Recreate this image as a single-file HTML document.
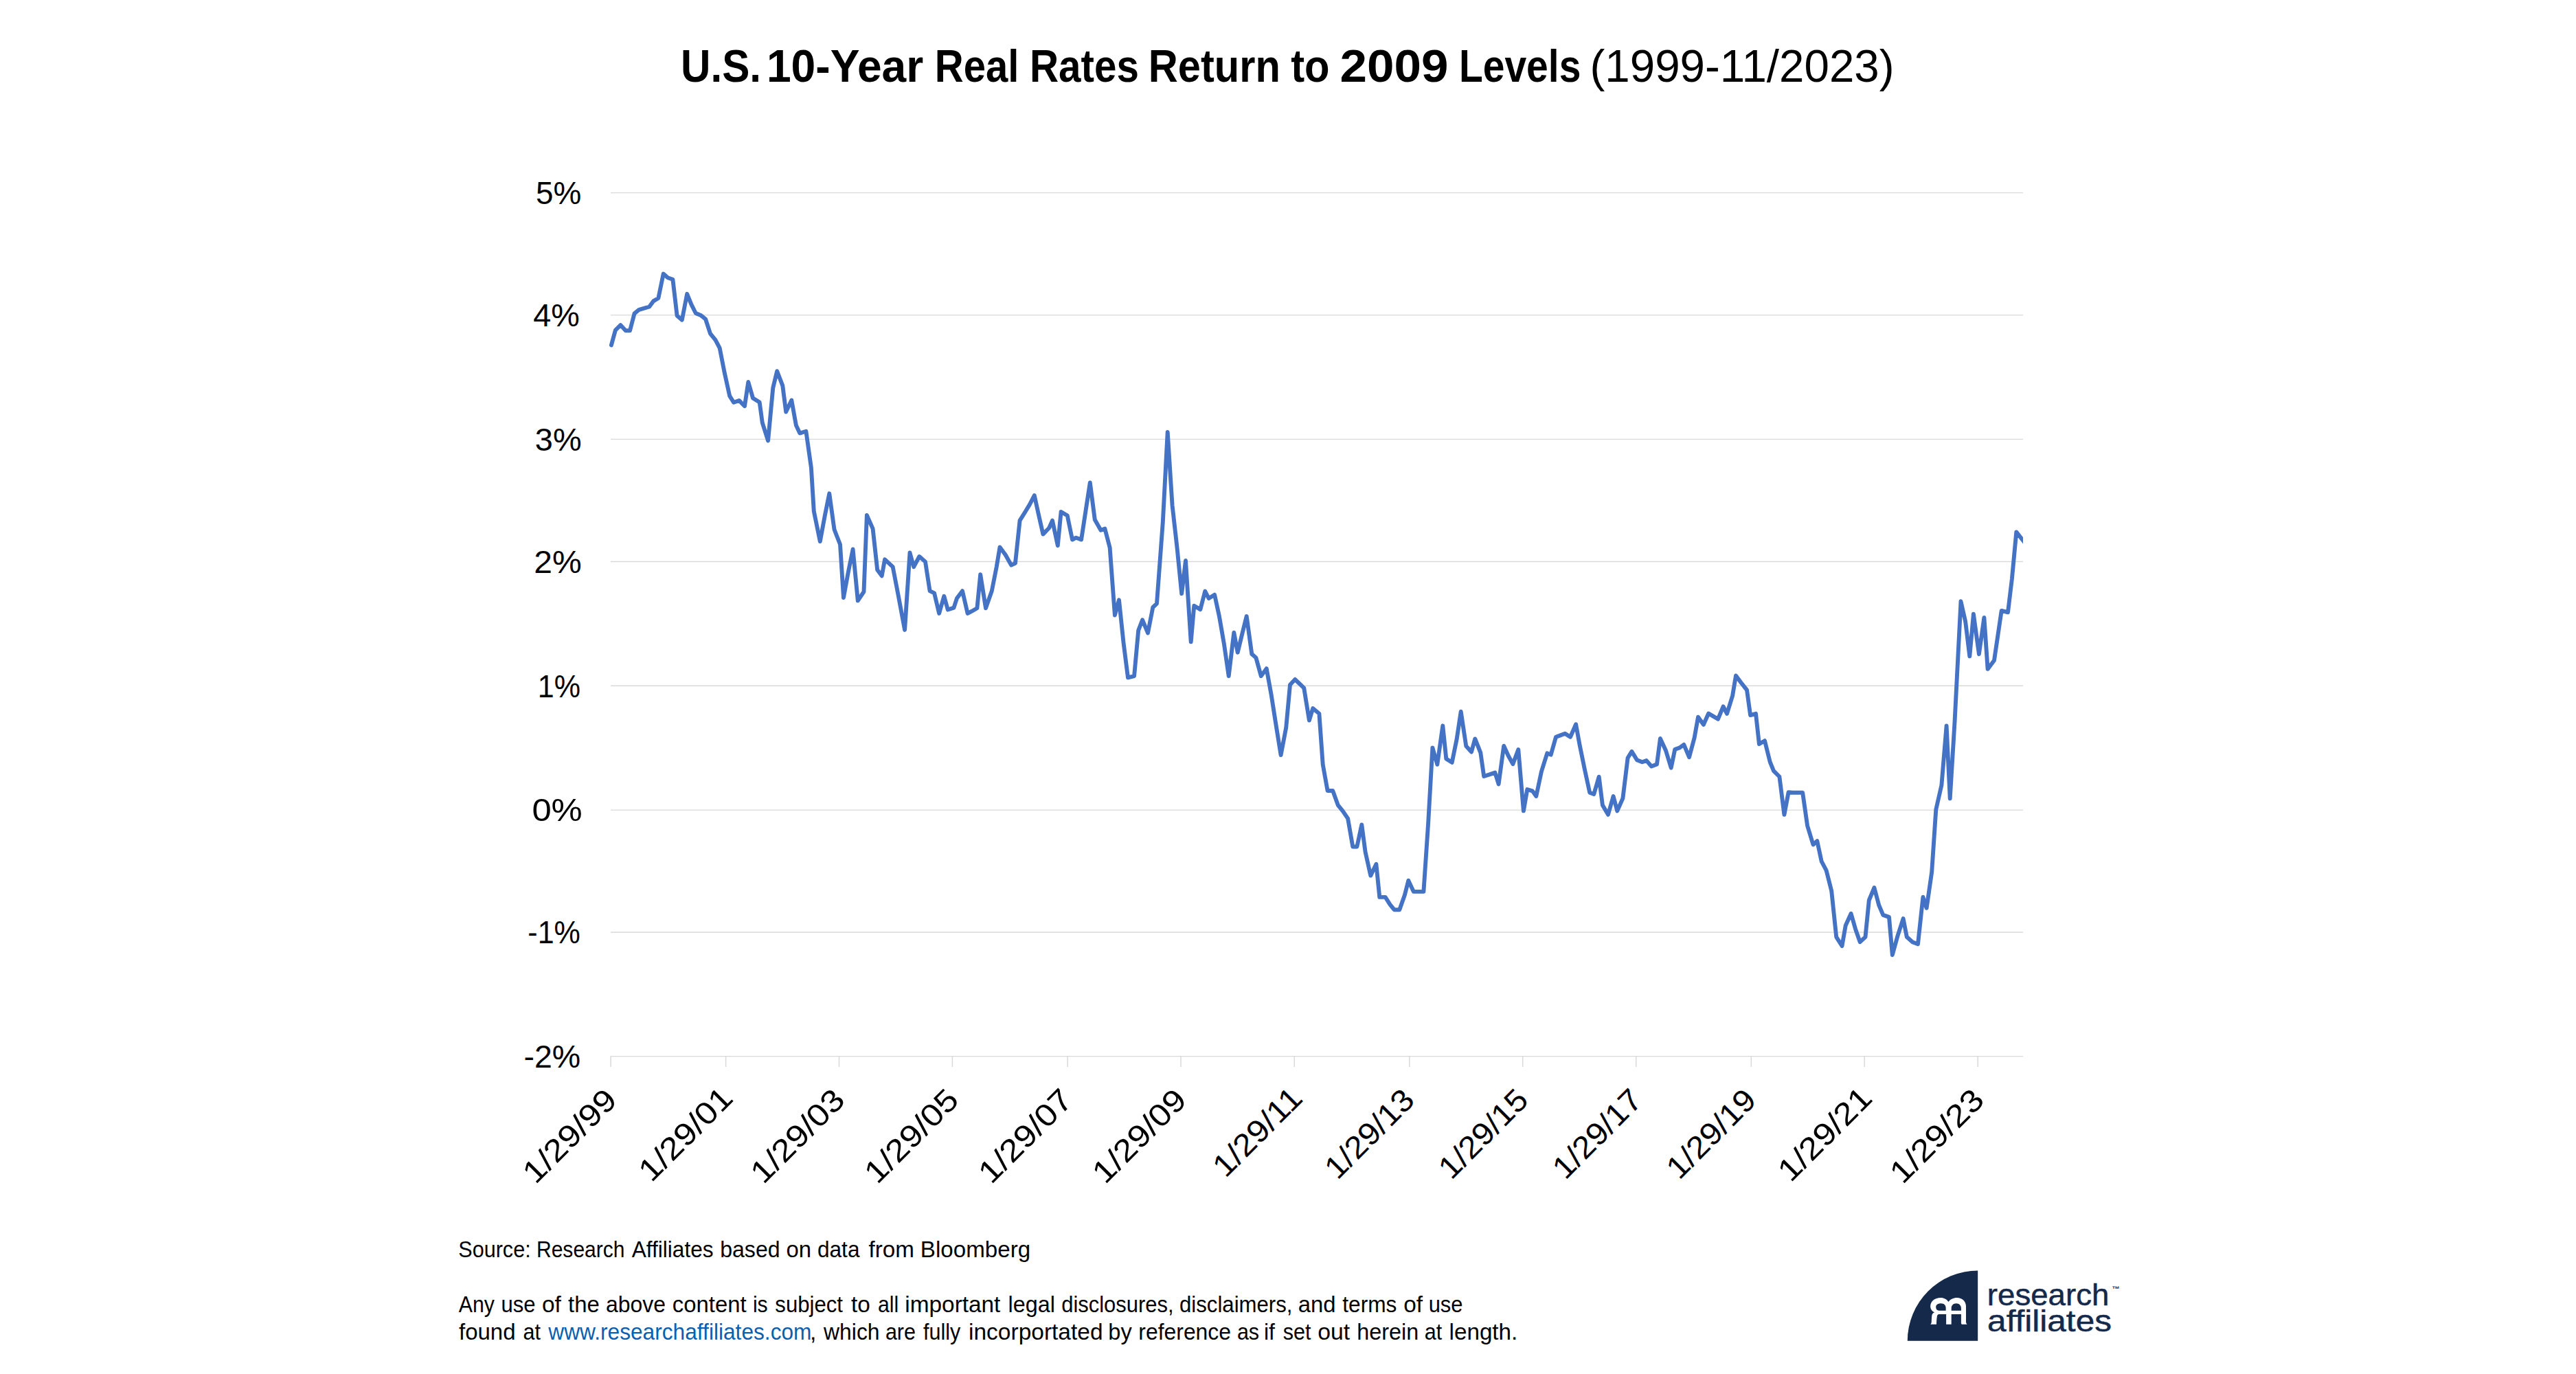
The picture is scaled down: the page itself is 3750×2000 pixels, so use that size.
<!DOCTYPE html>
<html><head><meta charset="utf-8"><title>U.S. 10-Year Real Rates Return to 2009 Levels</title>
<style>html,body{margin:0;padding:0;background:#fff}svg{display:block}text{font-family:'Liberation Sans', sans-serif;white-space:pre}</style>
</head><body>
<svg width="3750" height="2000" viewBox="0 0 3750 2000">
<rect width="3750" height="2000" fill="#fff"/>
<g stroke="#d9d9d9" fill="none">
<line x1="889" x2="2945" y1="280.6" y2="280.6" stroke-width="1.4"/>
<line x1="889" x2="2945" y1="458.6" y2="458.6" stroke-width="1.4"/>
<line x1="889" x2="2945" y1="639.4" y2="639.4" stroke-width="1.4"/>
<line x1="889" x2="2945" y1="817.5" y2="817.5" stroke-width="1.4"/>
<line x1="889" x2="2945" y1="998.3" y2="998.3" stroke-width="1.4"/>
<line x1="889" x2="2945" y1="1179.1" y2="1179.1" stroke-width="1.4"/>
<line x1="889" x2="2945" y1="1357.0" y2="1357.0" stroke-width="1.4"/>
<line x1="889" x2="2945" y1="1537.6" y2="1537.6" stroke-width="1.4"/>
<line x1="889.1" x2="889.1" y1="1537.6" y2="1553" stroke-width="1.5"/>
<line x1="1056.6" x2="1056.6" y1="1537.6" y2="1553" stroke-width="1.5"/>
<line x1="1221.5" x2="1221.5" y1="1537.6" y2="1553" stroke-width="1.5"/>
<line x1="1386.4" x2="1386.4" y1="1537.6" y2="1553" stroke-width="1.5"/>
<line x1="1554.1" x2="1554.1" y1="1537.6" y2="1553" stroke-width="1.5"/>
<line x1="1719" x2="1719" y1="1537.6" y2="1553" stroke-width="1.5"/>
<line x1="1884.3" x2="1884.3" y1="1537.6" y2="1553" stroke-width="1.5"/>
<line x1="2051.8" x2="2051.8" y1="1537.6" y2="1553" stroke-width="1.5"/>
<line x1="2216.7" x2="2216.7" y1="1537.6" y2="1553" stroke-width="1.5"/>
<line x1="2381.7" x2="2381.7" y1="1537.6" y2="1553" stroke-width="1.5"/>
<line x1="2549.3" x2="2549.3" y1="1537.6" y2="1553" stroke-width="1.5"/>
<line x1="2714.2" x2="2714.2" y1="1537.6" y2="1553" stroke-width="1.5"/>
<line x1="2879.2" x2="2879.2" y1="1537.6" y2="1553" stroke-width="1.5"/>
</g>
<clipPath id="cp"><rect x="880" y="270" width="2065" height="1280"/></clipPath>
<polyline clip-path="url(#cp)" fill="none" stroke="#4472c4" stroke-width="5.9" stroke-linejoin="round" stroke-linecap="round" points="889.9,502.4 895.9,480.6 903.4,473.2 910.8,481.2 917.0,481.2 923.5,456.4 930.3,450.8 937.9,448.6 945.2,446.5 951.1,438.4 958.4,434.0 965.7,398.6 972.2,404.2 979.4,406.7 985.6,459.5 992.8,465.7 1000.2,427.8 1006.5,443.4 1012.9,456.0 1020.2,458.9 1027.1,464.5 1034.0,485.6 1041.5,494.9 1047.7,506.7 1054.5,541.5 1062.2,576.3 1068.2,585.8 1075.9,582.9 1084.0,591.2 1089.3,556.0 1096.0,579.4 1105.7,585.6 1109.8,615.4 1118.1,641.5 1125.3,564.5 1131.2,540.2 1139.3,561.4 1144.2,599.5 1152.3,582.5 1158.9,619.1 1164.3,630.6 1173.4,627.8 1180.9,680.9 1184.8,744.2 1193.8,788.1 1200.7,751.0 1207.3,718.3 1214.5,770.7 1223.0,792.5 1228.0,870.0 1234.6,834.0 1241.6,799.5 1248.8,874.4 1257.5,861.3 1261.9,749.9 1270.6,769.6 1277.2,829.6 1283.7,838.3 1288.1,814.3 1299.7,825.2 1307.7,866.7 1317.1,916.9 1324.5,804.5 1330.2,825.2 1338.3,810.0 1347.0,817.6 1353.6,860.2 1360.1,863.4 1367.1,892.9 1374.3,867.8 1379.8,887.5 1388.5,884.6 1392.9,871.1 1401.0,860.2 1408.6,892.9 1414.7,889.7 1422.4,885.3 1427.2,836.2 1435.0,885.3 1443.8,860.2 1450.7,825.2 1455.5,796.4 1463.8,807.8 1472.1,822.6 1478.0,819.8 1484.6,757.6 1492.2,745.5 1498.8,734.6 1505.8,721.1 1511.9,748.8 1518.4,777.6 1527.2,768.5 1532.0,757.6 1539.8,794.2 1544.6,744.9 1553.8,750.6 1561.0,785.5 1566.5,782.7 1574.1,785.5 1580.7,742.3 1586.8,702.5 1593.8,756.5 1602.5,771.7 1608.4,769.6 1615.6,796.9 1622.9,895.5 1629.0,873.3 1635.5,935.2 1642.0,986.4 1651.1,984.1 1657.2,917.6 1663.1,902.3 1671.0,921.4 1678.3,884.0 1684.0,878.6 1692.8,760.0 1699.7,629.0 1706.6,736.0 1713.5,797.0 1720.2,864.1 1726.0,816.0 1733.7,934.4 1738.3,881.7 1747.4,887.1 1754.3,860.6 1759.6,871.0 1768.1,865.7 1774.9,897.0 1781.8,936.7 1788.7,984.1 1796.3,920.7 1801.7,949.7 1808.2,923.0 1814.7,897.0 1822.3,952.0 1828.4,957.4 1835.8,984.1 1843.7,973.1 1850.6,1011.0 1857.5,1055.0 1864.6,1099.1 1872.2,1059.3 1878.0,996.7 1885.2,989.0 1892.1,995.5 1898.2,1001.3 1905.9,1048.6 1911.2,1031.1 1920.4,1038.7 1925.7,1112.8 1932.6,1151.0 1940.2,1151.0 1947.9,1172.2 1954.8,1180.6 1962.1,1191.3 1969.3,1232.5 1975.4,1232.5 1982.3,1200.4 1987.6,1240.2 1995.3,1274.6 2003.4,1257.7 2008.3,1305.9 2016.7,1305.9 2023.5,1316.6 2029.6,1324.2 2037.3,1324.2 2044.9,1302.8 2050.3,1281.7 2057.9,1297.9 2072.4,1297.9 2079.0,1200.4 2085.4,1088.4 2092.3,1112.8 2100.3,1056.3 2105.3,1104.4 2113.7,1109.8 2120.6,1076.2 2126.7,1035.7 2134.3,1086.1 2142.0,1094.5 2147.3,1075.4 2155.3,1095.6 2160.2,1130.0 2168.3,1127.4 2176.4,1124.6 2181.6,1141.4 2189.2,1085.7 2195.8,1100.2 2202.4,1112.1 2210.3,1091.0 2217.9,1180.4 2223.3,1149.1 2230.9,1151.4 2236.3,1159.0 2243.9,1123.1 2252.3,1096.4 2257.7,1098.6 2265.0,1072.7 2271.4,1070.4 2278.3,1067.8 2286.0,1072.7 2294.1,1054.3 2299.7,1084.9 2306.9,1120.0 2314.2,1153.7 2320.3,1156.0 2327.7,1130.7 2332.9,1172.0 2341.0,1185.8 2348.6,1159.0 2354.3,1180.4 2362.4,1162.1 2369.6,1103.2 2375.4,1093.8 2383.0,1106.3 2390.6,1109.3 2396.8,1107.1 2404.1,1115.5 2412.0,1112.4 2416.9,1075.0 2425.0,1092.5 2432.7,1117.7 2438.3,1090.7 2445.2,1088.4 2451.3,1083.9 2459.0,1102.2 2466.6,1073.9 2472.0,1043.7 2479.9,1054.8 2487.2,1038.5 2494.1,1042.6 2501.0,1046.7 2508.6,1028.4 2514.0,1038.8 2522.1,1012.8 2527.0,983.4 2534.6,993.7 2543.0,1004.4 2548.1,1041.1 2556.0,1038.8 2560.9,1083.1 2569.0,1078.2 2576.7,1109.1 2582.0,1122.1 2590.4,1130.5 2597.4,1185.9 2603.6,1153.1 2609.7,1153.8 2617.3,1153.8 2624.2,1153.8 2631.1,1202.0 2639.5,1229.5 2645.3,1224.1 2651.7,1253.9 2658.6,1266.9 2666.2,1296.7 2673.2,1363.8 2681.5,1376.9 2686.7,1347.2 2694.6,1329.7 2701.1,1352.4 2707.7,1371.2 2715.5,1363.8 2720.8,1310.5 2728.4,1292.1 2735.2,1317.5 2741.3,1331.9 2750.0,1334.9 2754.8,1390.0 2762.3,1362.9 2770.6,1337.1 2775.8,1363.8 2784.1,1371.2 2792.0,1374.2 2799.4,1305.7 2804.6,1321.8 2812.2,1269.2 2818.3,1178.3 2826.4,1142.9 2833.6,1056.4 2838.7,1162.4 2845.5,1051.1 2854.5,875.3 2861.2,905.0 2867.3,955.4 2872.9,893.7 2880.9,952.2 2888.4,899.0 2893.6,973.9 2903.0,961.2 2913.7,888.9 2923.0,891.3 2928.9,842.5 2935.3,774.4 2947.3,789.6"/>
<g fill="#000">
<text x="779.91" y="296.9" font-size="46.3" textLength="66.30" lengthAdjust="spacingAndGlyphs">5%</text>
<text x="776.39" y="474.9" font-size="46.3" textLength="67.48" lengthAdjust="spacingAndGlyphs">4%</text>
<text x="778.89" y="655.7" font-size="46.3" textLength="67.79" lengthAdjust="spacingAndGlyphs">3%</text>
<text x="777.22" y="833.8" font-size="46.3" textLength="69.49" lengthAdjust="spacingAndGlyphs">2%</text>
<text x="782.83" y="1014.6" font-size="46.3" textLength="62.23" lengthAdjust="spacingAndGlyphs">1%</text>
<text x="774.40" y="1195.4" font-size="46.3" textLength="73.37" lengthAdjust="spacingAndGlyphs">0%</text>
<text x="768.33" y="1373.3" font-size="46.3" textLength="76.57" lengthAdjust="spacingAndGlyphs">-1%</text>
<text x="762.49" y="1553.9" font-size="46.3" textLength="82.78" lengthAdjust="spacingAndGlyphs">-2%</text>
<text transform="translate(899.7,1604.9) rotate(-45)" x="-169.89" y="0" font-size="45.5" textLength="171.36" lengthAdjust="spacingAndGlyphs">1/29/99</text>
<text transform="translate(1068.4,1602.1) rotate(-45)" x="-169.89" y="0" font-size="45.5" textLength="171.36" lengthAdjust="spacingAndGlyphs">1/29/01</text>
<text transform="translate(1231.4,1604.9) rotate(-45)" x="-169.89" y="0" font-size="45.5" textLength="171.36" lengthAdjust="spacingAndGlyphs">1/29/03</text>
<text transform="translate(1397.2,1604.9) rotate(-45)" x="-169.89" y="0" font-size="45.5" textLength="171.36" lengthAdjust="spacingAndGlyphs">1/29/05</text>
<text transform="translate(1563.1,1604.9) rotate(-45)" x="-169.89" y="0" font-size="45.5" textLength="171.36" lengthAdjust="spacingAndGlyphs">1/29/07</text>
<text transform="translate(1728.9,1604.9) rotate(-45)" x="-169.89" y="0" font-size="45.5" textLength="171.36" lengthAdjust="spacingAndGlyphs">1/29/09</text>
<text transform="translate(1897.6,1602.1) rotate(-45)" x="-160.78" y="0" font-size="45.5" textLength="162.20" lengthAdjust="spacingAndGlyphs">1/29/11</text>
<text transform="translate(2060.6,1604.9) rotate(-45)" x="-160.70" y="0" font-size="45.5" textLength="162.10" lengthAdjust="spacingAndGlyphs">1/29/13</text>
<text transform="translate(2226.4,1604.9) rotate(-45)" x="-160.70" y="0" font-size="45.5" textLength="162.10" lengthAdjust="spacingAndGlyphs">1/29/15</text>
<text transform="translate(2392.3,1604.9) rotate(-45)" x="-160.70" y="0" font-size="45.5" textLength="162.10" lengthAdjust="spacingAndGlyphs">1/29/17</text>
<text transform="translate(2558.1,1604.9) rotate(-45)" x="-160.70" y="0" font-size="45.5" textLength="162.10" lengthAdjust="spacingAndGlyphs">1/29/19</text>
<text transform="translate(2726.8,1602.1) rotate(-45)" x="-169.89" y="0" font-size="45.5" textLength="171.36" lengthAdjust="spacingAndGlyphs">1/29/21</text>
<text transform="translate(2889.8,1604.9) rotate(-45)" x="-169.89" y="0" font-size="45.5" textLength="171.36" lengthAdjust="spacingAndGlyphs">1/29/23</text>
</g>
<text x="991.09" y="118.8" font-size="66.6" font-weight="bold" fill="#000" textLength="116.98" lengthAdjust="spacingAndGlyphs">U.S.</text>
<text x="1115.95" y="118.8" font-size="66.6" font-weight="bold" fill="#000" textLength="228.34" lengthAdjust="spacingAndGlyphs">10-Year</text>
<text x="1360.81" y="118.8" font-size="66.6" font-weight="bold" fill="#000" textLength="122.72" lengthAdjust="spacingAndGlyphs">Real</text>
<text x="1498.89" y="118.8" font-size="66.6" font-weight="bold" fill="#000" textLength="158.99" lengthAdjust="spacingAndGlyphs">Rates</text>
<text x="1671.72" y="118.8" font-size="66.6" font-weight="bold" fill="#000" textLength="192.07" lengthAdjust="spacingAndGlyphs">Return</text>
<text x="1879.20" y="118.8" font-size="66.6" font-weight="bold" fill="#000" textLength="56.41" lengthAdjust="spacingAndGlyphs">to</text>
<text x="1950.47" y="118.8" font-size="66.6" font-weight="bold" fill="#000" textLength="158.00" lengthAdjust="spacingAndGlyphs">2009</text>
<text x="2123.88" y="118.8" font-size="66.6" font-weight="bold" fill="#000" textLength="177.47" lengthAdjust="spacingAndGlyphs">Levels</text>
<text x="2314.46" y="118.8" font-size="66.6" font-weight="normal" fill="#000" textLength="443.16" lengthAdjust="spacingAndGlyphs">(1999-11/2023)</text>
<text x="667.30" y="1830.0" font-size="33.8" font-weight="normal" fill="#000" textLength="105.37" lengthAdjust="spacingAndGlyphs">Source:</text>
<text x="780.97" y="1830.0" font-size="33.8" font-weight="normal" fill="#000" textLength="128.57" lengthAdjust="spacingAndGlyphs">Research</text>
<text x="919.70" y="1830.0" font-size="33.8" font-weight="normal" fill="#000" textLength="118.94" lengthAdjust="spacingAndGlyphs">Affiliates</text>
<text x="1048.20" y="1830.0" font-size="33.8" font-weight="normal" fill="#000" textLength="87.40" lengthAdjust="spacingAndGlyphs">based</text>
<text x="1144.53" y="1830.0" font-size="33.8" font-weight="normal" fill="#000" textLength="36.62" lengthAdjust="spacingAndGlyphs">on</text>
<text x="1189.96" y="1830.0" font-size="33.8" font-weight="normal" fill="#000" textLength="61.54" lengthAdjust="spacingAndGlyphs">data</text>
<text x="1264.60" y="1830.0" font-size="33.8" font-weight="normal" fill="#000" textLength="66.41" lengthAdjust="spacingAndGlyphs">from</text>
<text x="1339.84" y="1830.0" font-size="33.8" font-weight="normal" fill="#000" textLength="160.32" lengthAdjust="spacingAndGlyphs">Bloomberg</text>
<text x="667.87" y="1909.9" font-size="33.8" font-weight="normal" fill="#000" textLength="52.08" lengthAdjust="spacingAndGlyphs">Any</text>
<text x="729.56" y="1909.9" font-size="33.8" font-weight="normal" fill="#000" textLength="50.07" lengthAdjust="spacingAndGlyphs">use</text>
<text x="789.03" y="1909.9" font-size="33.8" font-weight="normal" fill="#000" textLength="27.86" lengthAdjust="spacingAndGlyphs">of</text>
<text x="827.00" y="1909.9" font-size="33.8" font-weight="normal" fill="#000" textLength="45.78" lengthAdjust="spacingAndGlyphs">the</text>
<text x="881.95" y="1909.9" font-size="33.8" font-weight="normal" fill="#000" textLength="87.10" lengthAdjust="spacingAndGlyphs">above</text>
<text x="978.83" y="1909.9" font-size="33.8" font-weight="normal" fill="#000" textLength="107.88" lengthAdjust="spacingAndGlyphs">content</text>
<text x="1095.89" y="1909.9" font-size="33.8" font-weight="normal" fill="#000" textLength="21.82" lengthAdjust="spacingAndGlyphs">is</text>
<text x="1128.30" y="1909.9" font-size="33.8" font-weight="normal" fill="#000" textLength="98.74" lengthAdjust="spacingAndGlyphs">subject</text>
<text x="1238.96" y="1909.9" font-size="33.8" font-weight="normal" fill="#000" textLength="27.86" lengthAdjust="spacingAndGlyphs">to</text>
<text x="1277.96" y="1909.9" font-size="33.8" font-weight="normal" fill="#000" textLength="30.24" lengthAdjust="spacingAndGlyphs">all</text>
<text x="1317.33" y="1909.9" font-size="33.8" font-weight="normal" fill="#000" textLength="139.07" lengthAdjust="spacingAndGlyphs">important</text>
<text x="1467.59" y="1909.9" font-size="33.8" font-weight="normal" fill="#000" textLength="68.36" lengthAdjust="spacingAndGlyphs">legal</text>
<text x="1545.18" y="1909.9" font-size="33.8" font-weight="normal" fill="#000" textLength="163.51" lengthAdjust="spacingAndGlyphs">disclosures,</text>
<text x="1716.98" y="1909.9" font-size="33.8" font-weight="normal" fill="#000" textLength="164.53" lengthAdjust="spacingAndGlyphs">disclaimers,</text>
<text x="1889.83" y="1909.9" font-size="33.8" font-weight="normal" fill="#000" textLength="54.82" lengthAdjust="spacingAndGlyphs">and</text>
<text x="1954.30" y="1909.9" font-size="33.8" font-weight="normal" fill="#000" textLength="79.14" lengthAdjust="spacingAndGlyphs">terms</text>
<text x="2043.13" y="1909.9" font-size="33.8" font-weight="normal" fill="#000" textLength="27.86" lengthAdjust="spacingAndGlyphs">of</text>
<text x="2079.67" y="1909.9" font-size="33.8" font-weight="normal" fill="#000" textLength="49.86" lengthAdjust="spacingAndGlyphs">use</text>
<text x="668.00" y="1949.6" font-size="33.8" font-weight="normal" fill="#000" textLength="82.55" lengthAdjust="spacingAndGlyphs">found</text>
<text x="761.49" y="1949.6" font-size="33.8" font-weight="normal" fill="#000" textLength="25.47" lengthAdjust="spacingAndGlyphs">at</text>
<text x="798.34" y="1949.6" font-size="33.8" font-weight="normal" fill="#0b5fae" textLength="383.18" lengthAdjust="spacingAndGlyphs">www.researchaffiliates.com</text>
<text x="1179.01" y="1949.6" font-size="33.8" font-weight="normal" fill="#000" textLength="9.38" lengthAdjust="spacingAndGlyphs">,</text>
<text x="1199.04" y="1949.6" font-size="33.8" font-weight="normal" fill="#000" textLength="81.55" lengthAdjust="spacingAndGlyphs">which</text>
<text x="1288.89" y="1949.6" font-size="33.8" font-weight="normal" fill="#000" textLength="44.14" lengthAdjust="spacingAndGlyphs">are</text>
<text x="1344.05" y="1949.6" font-size="33.8" font-weight="normal" fill="#000" textLength="54.30" lengthAdjust="spacingAndGlyphs">fully</text>
<text x="1410.02" y="1949.6" font-size="33.8" font-weight="normal" fill="#000" textLength="195.56" lengthAdjust="spacingAndGlyphs">incorportated</text>
<text x="1613.27" y="1949.6" font-size="33.8" font-weight="normal" fill="#000" textLength="34.43" lengthAdjust="spacingAndGlyphs">by</text>
<text x="1657.31" y="1949.6" font-size="33.8" font-weight="normal" fill="#000" textLength="134.74" lengthAdjust="spacingAndGlyphs">reference</text>
<text x="1800.88" y="1949.6" font-size="33.8" font-weight="normal" fill="#000" textLength="32.25" lengthAdjust="spacingAndGlyphs">as</text>
<text x="1839.90" y="1949.6" font-size="33.8" font-weight="normal" fill="#000" textLength="16.02" lengthAdjust="spacingAndGlyphs">if</text>
<text x="1867.66" y="1949.6" font-size="33.8" font-weight="normal" fill="#000" textLength="40.74" lengthAdjust="spacingAndGlyphs">set</text>
<text x="1918.19" y="1949.6" font-size="33.8" font-weight="normal" fill="#000" textLength="46.92" lengthAdjust="spacingAndGlyphs">out</text>
<text x="1975.28" y="1949.6" font-size="33.8" font-weight="normal" fill="#000" textLength="90.04" lengthAdjust="spacingAndGlyphs">herein</text>
<text x="2073.74" y="1949.6" font-size="33.8" font-weight="normal" fill="#000" textLength="25.47" lengthAdjust="spacingAndGlyphs">at</text>
<text x="2109.53" y="1949.6" font-size="33.8" font-weight="normal" fill="#000" textLength="99.82" lengthAdjust="spacingAndGlyphs">length.</text>
<text x="2892.85" y="1899.7" font-size="44.5" font-weight="normal" fill="#15294b" stroke="#15294b" stroke-width="0.5" textLength="177.47" lengthAdjust="spacingAndGlyphs">research</text>
<text x="2893.09" y="1938.0" font-size="44.5" font-weight="normal" fill="#15294b" stroke="#15294b" stroke-width="0.5" textLength="180.91" lengthAdjust="spacingAndGlyphs">affiliates</text>
<path d="M2879.2 1849.5 V1951.8 H2776.8 A102.4 102.4 0 0 1 2879.2 1849.5Z" fill="#15294b"/>
<g transform="translate(2800,1875) scale(0.047326)">
<path fill="#fff" d="M215 1115 H400 C405 1000 410 900 425 850 C435 815 455 805 500 805 H700 V1115 H860 V805 H1160 V1075 Q1165 1105 1185 1115 H1345 Q1315 1095 1310 1050 V560 C1310 400 1190 295 1035 295 C920 295 820 350 770 420 C720 350 640 295 530 295 C350 295 215 400 215 560 C215 650 270 715 345 745 C290 760 262 800 258 860 C252 950 250 1000 248 1050 Q240 1100 215 1115Z"/>
<path fill="#15294b" d="M690 690 H480 C420 690 385 640 385 580 C385 515 440 470 540 470 C640 470 690 530 690 610Z M860 690 V620 C860 530 920 470 1010 470 C1100 470 1160 530 1160 620 V690Z"/>
</g>
<text x="3074.5" y="1880" font-size="11" font-weight="bold" fill="#15294b">™</text>
</svg>
</body></html>
